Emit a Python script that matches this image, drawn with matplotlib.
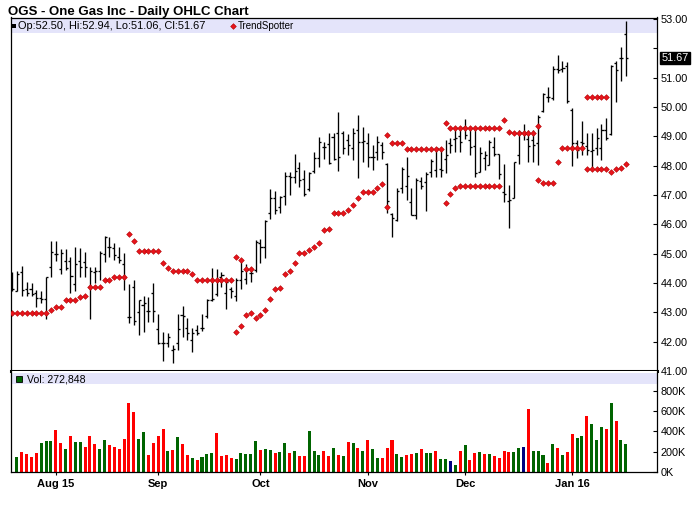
import numpy as np
import matplotlib
matplotlib.use("Agg")
import matplotlib.pyplot as plt
from matplotlib.patches import Rectangle
from matplotlib.transforms import blended_transform_factory

plt.rcParams['font.family'] = ['Liberation Sans', 'DejaVu Sans']

# ---------------- data ----------------
opens = [44.24, 43.74, 44.36, 43.79, 43.79, 43.65, 43.48, 43.44, 44.56, 44.99,
         44.47, 44.76, 44.76, 43.97, 44.74, 44.72, 43.85, 44.39, 44.41, 44.99,
         45.22, 45.19, 44.88, 44.65, 42.83, 43.85, 43.01, 43.24, 43.05, 43.67,
         42.42, 41.95, 41.95, 41.70, 41.95, 42.91, 42.46, 42.04, 42.40, 42.46,
         42.86, 43.42, 43.63, 44.22, 43.67, 43.79, 43.56, 44.11, 44.13, 44.33,
         44.45, 45.38, 45.24, 46.38, 46.89, 46.60, 46.95, 47.65, 47.60, 47.91,
         47.54, 47.20, 47.83, 48.25, 48.63, 48.74, 48.97, 49.10, 49.10, 48.88,
         48.61, 49.22, 48.82, 48.76, 48.31, 48.48, 48.71, 48.05, 46.34, 46.15,
         47.23, 47.30, 46.77, 46.32, 47.48, 47.43, 47.77, 47.85, 47.87, 48.22,
         48.76, 48.90, 49.01, 49.31, 48.88, 48.67, 47.80, 48.25, 48.02, 48.65,
         48.39, 47.10, 46.80, 46.89, 48.37, 49.10, 48.90, 48.88, 48.76, 49.86,
         50.35, 50.30, 51.30, 51.30, 51.40, 49.90, 48.76, 48.80, 48.68, 48.50,
         48.60, 48.60, 49.20, 49.07, 51.50, 51.66, 52.50]
highs = [44.39, 44.42, 44.58, 44.05, 43.99, 43.76, 43.74, 44.21, 45.43, 45.43,
         45.15, 45.16, 44.88, 45.21, 45.18, 45.04, 44.56, 44.56, 45.10, 45.60,
         45.56, 45.38, 45.24, 45.01, 43.97, 44.10, 43.42, 43.54, 43.51, 43.99,
         42.95, 42.33, 42.29, 41.89, 42.95, 43.22, 42.80, 42.46, 42.58, 42.95,
         43.45, 44.50, 44.47, 44.39, 44.11, 43.88, 44.16, 44.70, 44.65, 44.50,
         45.47, 45.49, 46.15, 47.20, 47.15, 46.95, 47.80, 47.80, 48.40, 48.14,
         47.86, 47.80, 48.48, 48.97, 48.82, 49.10, 49.10, 49.84, 49.18, 49.07,
         49.27, 49.73, 49.33, 49.10, 48.71, 49.02, 48.79, 48.10, 46.38, 47.23,
         47.97, 48.31, 47.23, 47.59, 47.63, 47.77, 48.23, 48.61, 48.59, 48.88,
         48.93, 49.22, 49.27, 49.60, 49.33, 49.33, 48.65, 48.50, 48.88, 48.99,
         48.39, 48.05, 47.34, 48.14, 49.22, 49.41, 49.22, 49.22, 49.71, 50.49,
         50.69, 51.40, 51.77, 51.57, 51.55, 49.96, 48.88, 49.52, 49.10, 49.10,
         49.27, 49.41, 49.64, 51.43, 51.57, 52.05, 52.94]
lows = [43.71, 43.71, 43.57, 43.57, 43.54, 43.17, 43.31, 42.76, 44.19, 44.76,
        44.31, 44.44, 43.67, 43.71, 44.22, 44.22, 42.76, 43.99, 44.10, 44.73,
        44.90, 44.79, 44.67, 43.76, 42.63, 42.57, 42.23, 42.34, 42.68, 42.68,
        41.92, 41.35, 41.83, 41.26, 41.72, 42.15, 42.04, 41.65, 42.23, 42.38,
        42.80, 43.37, 43.54, 43.88, 43.11, 43.48, 43.40, 43.79, 43.97, 44.02,
        44.39, 44.67, 44.84, 46.17, 46.35, 46.38, 46.66, 47.00, 47.40, 47.26,
        46.95, 47.12, 47.76, 47.97, 48.22, 48.06, 48.20, 47.83, 48.39, 48.37,
        48.19, 47.59, 48.14, 47.97, 47.85, 48.19, 48.22, 46.38, 45.56, 46.12,
        47.08, 46.83, 46.32, 46.18, 47.21, 46.44, 47.63, 47.60, 47.63, 47.76,
        48.42, 48.45, 48.48, 48.90, 48.36, 47.63, 47.78, 47.85, 48.02, 48.34,
        47.55, 46.75, 45.89, 46.89, 48.05, 48.88, 48.14, 48.12, 48.02, 49.84,
        50.18, 50.24, 51.15, 51.18, 50.13, 48.00, 48.25, 48.37, 48.37, 47.86,
        48.37, 48.20, 48.88, 49.05, 50.16, 50.87, 51.06]
closes = [43.79, 44.31, 43.76, 43.65, 43.61, 43.48, 43.44, 44.19, 45.05, 44.99,
          45.01, 44.50, 44.24, 44.65, 44.56, 44.56, 44.41, 44.42, 45.01, 45.56,
          45.22, 44.94, 44.79, 44.19, 42.85, 42.72, 43.42, 43.33, 43.05, 43.05,
          41.95, 41.95, 42.17, 41.74, 42.42, 42.86, 42.29, 42.30, 42.30, 42.46,
          43.42, 43.45, 44.11, 44.28, 44.02, 43.74, 44.11, 44.42, 44.45, 44.33,
          45.41, 45.24, 46.13, 46.89, 46.49, 46.92, 47.65, 47.63, 47.83, 47.51,
          47.04, 47.76, 48.25, 48.82, 48.62, 48.10, 48.22, 48.29, 48.61, 48.71,
          49.10, 48.82, 48.84, 48.31, 48.31, 48.82, 48.46, 46.78, 46.20, 47.12,
          47.88, 47.65, 46.32, 47.50, 47.29, 47.70, 48.15, 48.59, 47.85, 48.37,
          48.70, 48.93, 48.79, 49.05, 48.65, 47.74, 48.42, 48.36, 48.80, 48.39,
          47.71, 47.02, 46.83, 48.12, 49.15, 49.07, 48.68, 48.71, 49.67, 50.43,
          50.35, 51.30, 51.26, 51.32, 50.20, 48.76, 48.54, 48.76, 48.54, 48.54,
          48.95, 49.20, 48.95, 51.38, 51.26, 51.66, 51.67]

N = None
trend_upper = [N] * 24 + [45.66, 45.42, 45.08, 45.08, 45.08, 45.08, 45.08, 44.67, 44.50,
               44.41, 44.41, 44.41, 44.41, 44.31, 44.09, 44.09, 44.09, 44.09,
               44.09, 44.09, 44.09, 44.09, 44.88, 44.78, 44.47, 44.47] + [N] * 27 + \
              [49.05, 48.76, 48.76, 48.76, 48.57, 48.57, 48.57, 48.57, 48.57, 48.57,
               48.57, 48.57, 49.44, 49.27, 49.27, 49.27, 49.27, 49.27, 49.27, 49.27,
               49.27, 49.27, 49.27, 49.27, 49.55, 49.16, 49.10, 49.10, 49.10, 49.10,
               49.10, 49.34] + [N] * 9 + [50.33, 50.33, 50.33, 50.33, 50.33] + [N] * 4
trend_lower = [42.97, 42.97, 42.97, 42.97, 42.97, 42.97, 42.97, 42.97, 43.08, 43.17,
               43.17, 43.42, 43.42, 43.42, 43.51, 43.54, 43.85, 43.85, 43.85, 44.09,
               44.09, 44.19, 44.19, 44.19] + [N] * 22 + \
              [42.32, 42.54, 42.90, 42.97, 42.80, 42.91, 43.07, 43.45, 43.79, 43.82,
               44.30, 44.40, 44.67, 45.01, 45.01, 45.13, 45.22, 45.36, 45.80, 45.83,
               46.38, 46.38, 46.38, 46.49, 46.66, 46.89, 47.09, 47.09, 47.09, 47.25,
               47.37, 46.58] + [N] * 11 + \
              [46.72, 47.02, 47.23, 47.30, 47.30, 47.30, 47.30, 47.30, 47.30, 47.30,
               47.30, 47.30] + [N] * 7 + \
              [47.50, 47.40, 47.40, 47.40, 48.12, 48.59, 48.59, 48.59, 48.59, 48.59,
               47.88, 47.88, 47.88, 47.88, 47.88, 47.78, 47.88, 47.91, 48.05]

volume_k = [N, 145, 195, 175, 145, 185, 284, 304, 304, 413, 284,
            225, 354, 294, 294, 245, 354, 274, 225, 314, 264,
            245, 225, 324, 681, 592, 324, 393, 165, 284, 354,
            423, 205, 215, 344, 274, 165, 136, 116, 145, 175,
            185, 383, 155, 165, 136, 126, 185, 175, 175, 304,
            215, 225, 215, 185, 195, 284, 185, 205, 155, 155,
            403, 205, 165, 205, 155, 235, 165, 155, 294, 281,
            235, 205, 314, 225, 136, 136, 235, 314, 175, 145,
            165, 175, 185, 225, 185, 185, 205, 126, 126, 106,
            66, 205, 264, 116, 185, 195, 175, 175, 155, 136,
            205, 195, 195, 235, 245, 622, 205, 205, 165, 86,
            274, 235, 165, 195, 374, 334, 354, 552, 473, 314,
            443, 423, 681, 503, 314, 273]
# U = up day, D = down day, F = unchanged
volume_dir = list("-" "UDDDDUUUDD" "UDUUDDDUUD" "DDDDDUUDDD" "DUDUDDUDUU"
                  "UDDDDUUUUU" "DUUDUUDUDD" "UUUDDUDUDU" "DUDUUDDDUU"
                  "DDUDUUDUUF" "UDUDDUDUDD" "DDUUFDUUUD" "UDUDDUUDUU"
                  "UDUDUU")

month_pos = [9, 30, 51, 73, 93, 115]
month_labels = ["Aug 15", "Sep", "Oct", "Nov", "Dec", "Jan 16"]
price_ticks = [41, 42, 43, 44, 45, 46, 47, 48, 49, 50, 51, 52, 53]
vol_ticks_k = [0, 200, 400, 600, 800]
title = "OGS - One Gas Inc - Daily OHLC Chart"
last_label = "Op:52.50, Hi:52.94, Lo:51.06, Cl:51.67"
vol_label = "Vol: 272,848"
last_close = 51.67

# ---------------- layout ----------------
W, H = 700, 512
fig = plt.figure(figsize=(W / 100, H / 100), dpi=100)
def fx(p): return p / W
def fy(p): return 1 - p / H

L, R = 10.7, 657.0
T1, B1, B2 = 17.5, 371.0, 471.7
ax = fig.add_axes([fx(L), fy(B1), (R - L) / W, (B1 - T1) / H])
axv = fig.add_axes([fx(L), fy(B2), (R - L) / W, (B2 - B1) / H], sharex=ax)

n = len(opens)
x = np.arange(n)
o = np.array(opens); h = np.array(highs); lo = np.array(lows); c = np.array(closes)

lw = 0.95
ax.vlines(x, lo, h, color='black', lw=lw, zorder=3)
ax.hlines(o, x - 0.42, x, color='black', lw=lw, zorder=3)
ax.hlines(c, x, x + 0.42, color='black', lw=lw, zorder=3)

tu = np.array([np.nan if v is None else v for v in trend_upper], dtype=float)
tl = np.array([np.nan if v is None else v for v in trend_lower], dtype=float)
mk = dict(marker='D', ms=2.9, mfc='#e8141c', mec='#b00000', mew=0.4, linestyle='none', zorder=4)
ax.plot(x, tu, **mk)
ax.plot(x, tl, **mk)

ax.set_xlim(-0.27, 132.4)
ax.set_ylim(41, 53.05)

# header band
band_h = 15.5 / (B1 - T1)
ax.add_patch(Rectangle((0, 1 - band_h), 1, band_h, transform=ax.transAxes,
                       facecolor='#e4e4fa', edgecolor='none', zorder=1))

ax.yaxis.tick_right()
ax.set_yticks(price_ticks)
ax.set_yticklabels(["" if t == 52 else f"{t:.2f}" for t in price_ticks])
ax.tick_params(axis='y', direction='in', length=3, width=0.8, pad=2.5,
               labelsize=7.8, right=True, left=False, colors='black')
ax.tick_params(axis='x', bottom=False, labelbottom=False)
for s in ax.spines.values():
    s.set_linewidth(0.9)
ax.spines['bottom'].set_linewidth(2.2)

trans = blended_transform_factory(ax.transAxes, ax.transData)
ax.text(1 + 4.3 / (R - L), last_close, f"{last_close:.2f}", transform=trans,
        color='white', fontsize=7.8, va='center', ha='left',
        bbox=dict(boxstyle='square,pad=0.12', fc='black', ec='black'))

# volume
vx = [i for i in range(n) if volume_k[i] is not None]
vv = [volume_k[i] * 1000 for i in vx]
cmap = {'U': '#006400', 'D': '#ff0000', 'F': '#000080'}
vc = [cmap[volume_dir[i]] for i in vx]
axv.bar(vx, vv, width=0.62, color=vc, zorder=2)
axv.set_ylim(0, 998000)
vband_lo = 1 - 13.0 / (B2 - B1)
vband_hi = 1 - 2.2 / (B2 - B1)
axv.add_patch(Rectangle((0, vband_lo), 1, vband_hi - vband_lo, transform=axv.transAxes,
                        facecolor='#e4e4fa', edgecolor='none', zorder=1))
axv.yaxis.tick_right()
axv.set_yticks([v * 1000 for v in vol_ticks_k])
axv.set_yticklabels([f"{v}K" for v in vol_ticks_k])
axv.tick_params(axis='y', direction='in', length=3, width=0.8, pad=2.5,
                labelsize=7.8, right=True, left=False)
axv.set_xticks(month_pos)
axv.set_xticklabels(month_labels, fontweight='bold', fontsize=8)
axv.tick_params(axis='x', direction='out', length=2.5, width=0.8, pad=3)
for s in axv.spines.values():
    s.set_linewidth(0.9)
axv.spines['top'].set_visible(False)

# texts
fig.text(fx(7.5), fy(15.3), title, fontsize=9.5, fontweight='bold', va='baseline', ha='left')
fig.add_artist(Rectangle((fx(12), fy(28.3)), 4.4 / W, 4.6 / H, transform=fig.transFigure,
                         facecolor='black', edgecolor='none'))
fig.text(fx(18.3), fy(26), last_label, fontsize=7.9, va='center', ha='left')
fig.add_artist(plt.Line2D([fx(233)], [fy(26)], transform=fig.transFigure, **mk))
fig.text(fx(238), fy(26), "TrendSpotter", fontsize=7.0, va='center', ha='left')
fig.add_artist(Rectangle((fx(15.7), fy(382.3)), 6.6 / W, 6.6 / H, transform=fig.transFigure,
                         facecolor='#006400', edgecolor='black', lw=0.6))
fig.text(fx(26.7), fy(379), vol_label, fontsize=7.6, va='center', ha='left')

fig.savefig("out.png", dpi=100)
